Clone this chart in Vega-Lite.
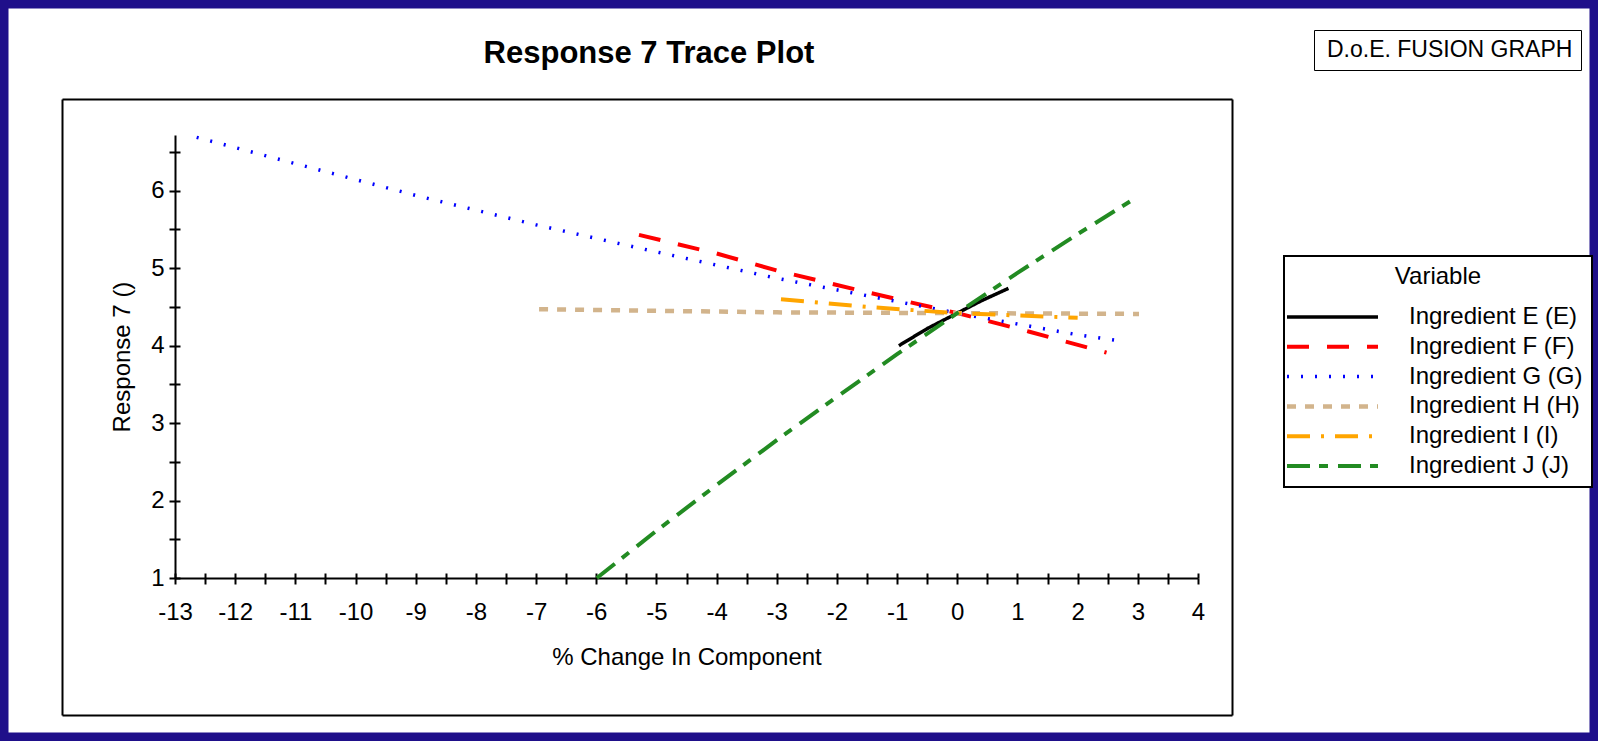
{
  "$schema": "https://vega.github.io/schema/vega-lite/v6.json",
  "width": 1598,
  "height": 741,
  "autosize": {"type": "none"},
  "padding": 0,
  "background": "white",
  "title": {"text": "Response 7 Trace Plot", "anchor": "middle", "frame": "group", "orient": "top", "offset": 0, "dx": -150, "dy": 85, "baseline": "middle", "font": "Liberation Sans", "fontSize": 31, "fontWeight": "bold", "color": "black"},
  "config": {
    "view": {"fill": "white", "stroke": "#1f0f8a", "strokeWidth": 17},
    "axis": {"grid": false, "domainColor": "black", "tickColor": "black", "labelColor": "black", "titleColor": "black", "labelFont": "Liberation Sans", "titleFont": "Liberation Sans", "labelFontSize": 24, "titleFontSize": 24, "titleFontWeight": "normal", "domainWidth": 2, "tickWidth": 2, "labelFlush": false, "labelOverlap": false, "labelBound": false}
  },
  "datasets": {
    "trace": [
      {"series": "Ingredient E (E)", "x": -0.97, "y": 4.00},
      {"series": "Ingredient E (E)", "x": -0.5, "y": 4.22},
      {"series": "Ingredient E (E)", "x": 0, "y": 4.42},
      {"series": "Ingredient E (E)", "x": 0.4, "y": 4.58},
      {"series": "Ingredient E (E)", "x": 0.85, "y": 4.74},
      {"series": "Ingredient F (F)", "x": -5.29, "y": 5.43},
      {"series": "Ingredient F (F)", "x": -4, "y": 5.19},
      {"series": "Ingredient F (F)", "x": -3, "y": 4.97},
      {"series": "Ingredient F (F)", "x": -1.5, "y": 4.69},
      {"series": "Ingredient F (F)", "x": 0, "y": 4.42},
      {"series": "Ingredient F (F)", "x": 1.2, "y": 4.18},
      {"series": "Ingredient F (F)", "x": 2.48, "y": 3.91},
      {"series": "Ingredient G (G)", "x": -12.64, "y": 6.69},
      {"series": "Ingredient G (G)", "x": -11, "y": 6.35},
      {"series": "Ingredient G (G)", "x": -9, "y": 5.94},
      {"series": "Ingredient G (G)", "x": -7, "y": 5.56},
      {"series": "Ingredient G (G)", "x": -5, "y": 5.21},
      {"series": "Ingredient G (G)", "x": -3, "y": 4.87},
      {"series": "Ingredient G (G)", "x": -1, "y": 4.57},
      {"series": "Ingredient G (G)", "x": 0, "y": 4.42},
      {"series": "Ingredient G (G)", "x": 1, "y": 4.28},
      {"series": "Ingredient G (G)", "x": 2, "y": 4.14},
      {"series": "Ingredient G (G)", "x": 2.71, "y": 4.06},
      {"series": "Ingredient H (H)", "x": -6.95, "y": 4.47},
      {"series": "Ingredient H (H)", "x": -3, "y": 4.43},
      {"series": "Ingredient H (H)", "x": 0, "y": 4.42},
      {"series": "Ingredient H (H)", "x": 3.02, "y": 4.41},
      {"series": "Ingredient I (I)", "x": -2.93, "y": 4.60},
      {"series": "Ingredient I (I)", "x": -1.5, "y": 4.50},
      {"series": "Ingredient I (I)", "x": 0, "y": 4.42},
      {"series": "Ingredient I (I)", "x": 1, "y": 4.39},
      {"series": "Ingredient I (I)", "x": 2.0, "y": 4.36},
      {"series": "Ingredient J (J)", "x": -5.99, "y": 1.0},
      {"series": "Ingredient J (J)", "x": -5, "y": 1.61},
      {"series": "Ingredient J (J)", "x": -4, "y": 2.20},
      {"series": "Ingredient J (J)", "x": -3, "y": 2.78},
      {"series": "Ingredient J (J)", "x": -2, "y": 3.34},
      {"series": "Ingredient J (J)", "x": -1, "y": 3.89},
      {"series": "Ingredient J (J)", "x": 0, "y": 4.42},
      {"series": "Ingredient J (J)", "x": 1, "y": 4.94},
      {"series": "Ingredient J (J)", "x": 2, "y": 5.44},
      {"series": "Ingredient J (J)", "x": 2.97, "y": 5.91}
    ]
  },
  "data": {"name": "trace"},
  "resolve": {"scale": {"x": "independent", "y": "independent"}, "axis": {"x": "independent", "y": "independent"}},
  "layer": [
    {
      "mark": {"type": "line", "strokeCap": "butt"},
      "encoding": {
        "x": {"field": "x", "type": "quantitative",
          "scale": {"domain": [-13, 4], "range": [175, 1198], "nice": false, "zero": false},
          "axis": {"orient": "bottom", "offset": -163, "values": [-13,-12.5,-12,-11.5,-11,-10.5,-10,-9.5,-9,-8.5,-8,-7.5,-7,-6.5,-6,-5.5,-5,-4.5,-4,-3.5,-3,-2.5,-2,-1.5,-1,-0.5,0,0.5,1,1.5,2,2.5,3,3.5,4],
            "labelExpr": "datum.value % 1 === 0 ? '' + datum.value : ''", "tickSize": 6, "labelPadding": 16, "title": "% Change In Component", "titlePadding": 21}},
        "y": {"field": "y", "type": "quantitative",
          "scale": {"domain": [1, 6.72], "range": [578, 135], "nice": false, "zero": false},
          "axis": {"orient": "left", "offset": -175, "values": [1,1.5,2,2.5,3,3.5,4,4.5,5,5.5,6,6.5],
            "labelExpr": "datum.value % 1 === 0 ? '' + datum.value : ''", "tickSize": 6, "labelPadding": 5, "title": "Response 7 ()", "titlePadding": 16}},
        "color": {"field": "series", "type": "nominal",
          "scale": {"domain": ["Ingredient E (E)", "Ingredient F (F)", "Ingredient G (G)", "Ingredient H (H)", "Ingredient I (I)", "Ingredient J (J)"],
                    "range": ["#000000", "#ff0000", "#0000ff", "#d2b48c", "#ffa500", "#228b22"]},
          "legend": {"title": "Variable", "orient": "none", "legendX": 1284, "legendY": 256, "padding": 9, "fillColor": "white", "strokeColor": "black",
            "titleFont": "Liberation Sans", "titleFontSize": 24, "titleFontWeight": "normal", "titleColor": "black", "titleAnchor": "middle", "titlePadding": 16,
            "labelFont": "Liberation Sans", "labelFontSize": 24, "labelColor": "black", "labelLimit": 400,
            "symbolType": "M-18,0H73", "symbolSize": 4, "symbolStrokeWidth": 3, "labelOffset": 92, "rowPadding": 5.8,
            "encode": {"legend": {"update": {"strokeWidth": {"value": 2}}}}}},
        "strokeDash": {"field": "series", "type": "nominal",
          "scale": {"domain": ["Ingredient E (E)", "Ingredient F (F)", "Ingredient G (G)", "Ingredient H (H)", "Ingredient I (I)", "Ingredient J (J)"],
                    "range": [[1, 0], [22, 18], [2, 12], [9, 9], [23, 11, 3, 11], [23, 9, 9, 10]]}},
        "strokeWidth": {"field": "series", "type": "ordinal",
          "scale": {"type": "ordinal", "domain": ["Ingredient E (E)", "Ingredient F (F)", "Ingredient G (G)", "Ingredient H (H)", "Ingredient I (I)", "Ingredient J (J)"],
                    "range": [3.5, 4, 3.5, 4.5, 4, 4]},
          "legend": null}
      }
    },
    {
      "mark": {"type": "point", "opacity": 0},
      "encoding": {
        "x": {"field": "x", "type": "quantitative",
          "scale": {"domain": [-13, 4], "range": [175, 1198], "nice": false, "zero": false},
          "axis": {"orient": "bottom", "offset": -163, "values": [-13,-12.5,-12,-11.5,-11,-10.5,-10,-9.5,-9,-8.5,-8,-7.5,-7,-6.5,-6,-5.5,-5,-4.5,-4,-3.5,-3,-2.5,-2,-1.5,-1,-0.5,0,0.5,1,1.5,2,2.5,3,3.5,4],
            "tickSize": -5, "labels": false, "domain": false, "title": null}},
        "y": {"field": "y", "type": "quantitative",
          "scale": {"domain": [1, 6.72], "range": [578, 135], "nice": false, "zero": false},
          "axis": {"orient": "left", "offset": -175, "values": [1,1.5,2,2.5,3,3.5,4,4.5,5,5.5,6,6.5],
            "tickSize": -5, "labels": false, "domain": false, "title": null}}
      }
    },
    {
      "mark": {"type": "point", "opacity": 0},
      "encoding": {
        "x": {"field": "x", "type": "quantitative",
          "scale": {"domain": [-15, 5], "range": [62, 1232], "nice": false, "zero": false},
          "axis": {"orient": "top", "offset": -99, "ticks": false, "labels": false, "title": null}},
        "y": {"field": "y", "type": "quantitative",
          "scale": {"domain": [-1, 8], "range": [715, 99], "nice": false, "zero": false},
          "axis": {"orient": "left", "offset": -62, "ticks": false, "labels": false, "title": null}},
        "shape": {"datum": "D.o.E. FUSION GRAPH",
          "legend": {"orient": "none", "legendX": 1314, "legendY": 30, "title": null, "padding": 8, "labelFont": "Liberation Sans", "labelFontSize": 23, "labelColor": "black", "labelLimit": 400,
            "symbolSize": 0, "symbolOpacity": 0, "symbolStrokeWidth": 0, "labelOffset": -18, "fillColor": "white", "strokeColor": "black",
            "encode": {"legend": {"update": {"strokeWidth": {"value": 2}}}}}}
      }
    },
    {
      "mark": {"type": "point", "opacity": 0},
      "encoding": {
        "x": {"field": "x", "type": "quantitative",
          "scale": {"domain": [-15, 5], "range": [62, 1232], "nice": false, "zero": false},
          "axis": {"orient": "bottom", "offset": -26, "ticks": false, "labels": false, "title": null}},
        "y": {"field": "y", "type": "quantitative",
          "scale": {"domain": [-1, 8], "range": [715, 99], "nice": false, "zero": false},
          "axis": {"orient": "right", "offset": -366, "ticks": false, "labels": false, "title": null}}
      }
    }
  ]
}
